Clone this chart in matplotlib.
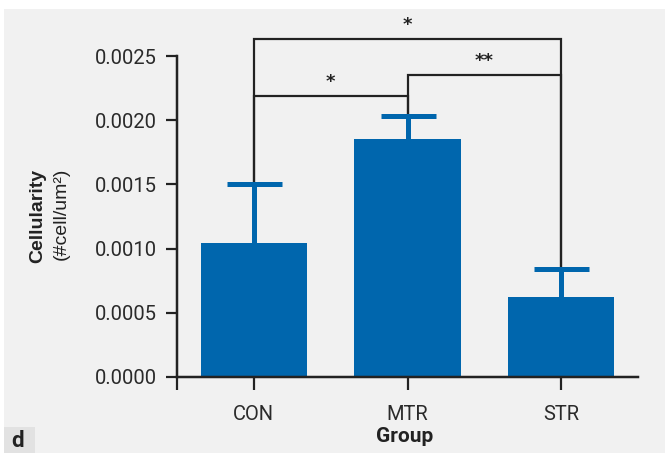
import matplotlib
matplotlib.use("Agg")
import matplotlib.pyplot as plt
from matplotlib.patches import Rectangle

# ---- data ----
groups = ["CON", "MTR", "STR"]
means = [0.00104, 0.00185, 0.00062]
err_upper = [0.00046, 0.00018, 0.00022]
yticks = [0.0, 0.0005, 0.0010, 0.0015, 0.0020, 0.0025]
ytick_labels = ["0.0000", "0.0005", "0.0010", "0.0015", "0.0020", "0.0025"]
bracket_pairs = [(0, 1), (1, 2), (0, 2)]
bracket_heights = [0.00219, 0.00235, 0.00263]
bracket_labels = ["*", "**", "*"]

bar_color = "#0066ad"
ink = "#222222"
px = 72 / 100  # points per pixel

fig = plt.figure(figsize=(6.65, 4.53), dpi=100)
fig.patch.set_facecolor("white")
fig.patches.append(Rectangle((4 / 665, 0), 1, 1 - 9 / 453, transform=fig.transFigure,
                             facecolor="#f1f1f1", edgecolor="none", zorder=-10))
fig.patches.append(Rectangle((4 / 665, 0), 31 / 665, 26 / 453, transform=fig.transFigure,
                             facecolor="#e2e2e2", edgecolor="none", zorder=-9))

ax = fig.add_axes([177 / 665, 1 - 377 / 453, (638 - 177) / 665, (377 - 56) / 453])
ax.set_facecolor("none")

x = list(range(len(groups)))
ax.bar(x, means, width=0.69, color=bar_color, zorder=2)
eb = ax.errorbar(x, means, yerr=[[0] * len(means), err_upper], fmt="none",
                 ecolor=bar_color, elinewidth=5 * px, capsize=27.5 * px, capthick=5 * px, zorder=3)
eb[1][0].set_visible(False)  # hide lower caps

tops = [m + e for m, e in zip(means, err_upper)]
for (i, j), h, lab in zip(bracket_pairs, bracket_heights, bracket_labels):
    ax.plot([i, i, j, j], [tops[i], h, h, tops[j]], color=ink, lw=2.2 * px,
            clip_on=False, zorder=1, solid_joinstyle="miter")
    ax.text((i + j) / 2, h + 0.00011, lab, ha="center", va="center",
            fontsize=13, fontweight="bold", color=ink, family="DejaVu Sans")

ax.set_xlim(-0.5, 2.5)
ax.set_ylim(0, 0.0025)
ax.set_xticks(x)
ax.set_xticklabels(groups)
ax.set_xticks([-0.5], minor=True)
ax.set_yticks(yticks)
ax.set_yticklabels(ytick_labels)

for s in ["top", "right"]:
    ax.spines[s].set_visible(False)
for s in ["left", "bottom"]:
    ax.spines[s].set_linewidth(2.5 * px)
    ax.spines[s].set_color(ink)

ax.tick_params(axis="y", length=11 * px, width=2.2 * px, color=ink, pad=9 * px,
               labelsize=14.5, labelcolor="#2a2a2a")
ax.tick_params(axis="x", which="both", length=13 * px, width=2.2 * px, color=ink,
               pad=15 * px, labelsize=14.5, labelcolor="#2a2a2a")
for lab in ax.get_xticklabels() + ax.get_yticklabels():
    lab.set_family("Roboto")

fig.text(405 / 665, 1 - 437 / 453, "Group", ha="center", va="center",
         fontsize=15, fontweight="bold", family="Roboto", color="#222222")
fig.text(38 / 665, 1 - 216 / 453, "Cellularity", ha="center", va="center",
         rotation=90, fontsize=14, fontweight="bold", family="Liberation Sans", color="#222222")
fig.text(61 / 665, 1 - 214 / 453, "(#cell/um²)", ha="center", va="center",
         rotation=90, fontsize=14, family="Liberation Sans", color="#222222")
fig.text(18 / 665, 1 - 441 / 453, "d", ha="center", va="center",
         fontsize=16, fontweight="bold", family="Roboto", color="#222222")

fig.savefig("out.png", dpi=100)
